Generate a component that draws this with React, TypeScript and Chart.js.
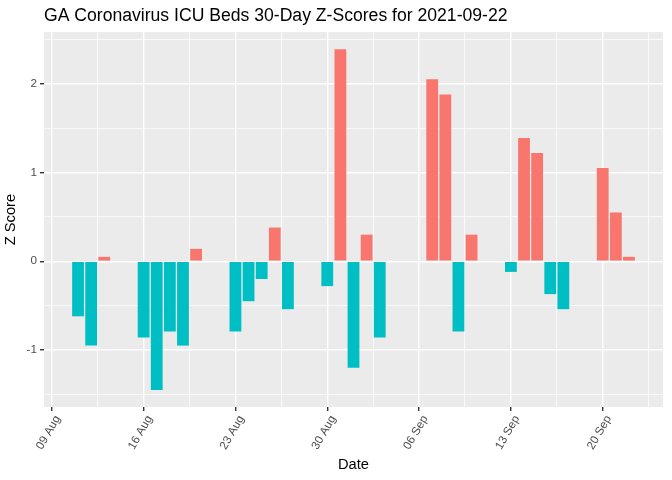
import React, { useEffect, useRef } from "react";
import { Chart, registerables } from "chart.js";

Chart.register(...registerables);

const titleText = "GA Coronavirus ICU Beds 30-Day Z-Scores for 2021-09-22";
const dates = [
  "2021-08-11", "2021-08-12", "2021-08-13",
  "2021-08-16", "2021-08-17", "2021-08-18", "2021-08-19", "2021-08-20",
  "2021-08-23", "2021-08-24", "2021-08-25", "2021-08-26", "2021-08-27",
  "2021-08-30", "2021-08-31", "2021-09-01", "2021-09-02", "2021-09-03",
  "2021-09-07", "2021-09-08", "2021-09-09", "2021-09-10",
  "2021-09-13", "2021-09-14", "2021-09-15", "2021-09-16", "2021-09-17",
  "2021-09-20", "2021-09-21", "2021-09-22",
];
const zScores = [
  -0.62, -0.95, 0.05,
  -0.86, -1.45, -0.79, -0.95, 0.14,
  -0.79, -0.45, -0.2, 0.38, -0.54,
  -0.28, 2.39, -1.2, 0.3, -0.86,
  2.05, 1.88, -0.79, 0.3,
  -0.12, 1.39, 1.22, -0.37, -0.54,
  1.05, 0.55, 0.05,
];
const xTickLabels = ["09 Aug", "16 Aug", "23 Aug", "30 Aug", "06 Sep", "13 Sep", "20 Sep"];
const yTickLabels = ["-1", "0", "1", "2"];
const yTickValues = [-1, 0, 1, 2];

const baseDay = Date.UTC(2021, 7, 9);
const dayOf = (s: string) => {
  const [y, m, d] = s.split("-").map(Number);
  return Math.round((Date.UTC(y, m - 1, d) - baseDay) / 86400000);
};

export default function App() {
  const ref = useRef<HTMLCanvasElement | null>(null);
  useEffect(() => {
    document.body.style.margin = "0";
    const points = dates.map((d, i) => ({ x: dayOf(d), y: zScores[i] }));
    const colors = zScores.map((v) => (v >= 0 ? "#F8766D" : "#00BFC4"));
    const xs = points.map((p) => p.x);
    const xmin0 = Math.min(...xs) - 0.45;
    const xmax0 = Math.max(...xs) + 0.45;
    const xpad = (xmax0 - xmin0) * 0.05;
    const ymin0 = Math.min(...zScores, 0);
    const ymax0 = Math.max(...zScores, 0);
    const ypad = (ymax0 - ymin0) * 0.05;

    const panelBg = {
      id: "panelBg",
      beforeDraw(chart: any) {
        const { ctx, chartArea: a } = chart;
        ctx.save();
        ctx.fillStyle = "#EBEBEB";
        ctx.fillRect(a.left, a.top, a.right - a.left, a.bottom - a.top);
        ctx.restore();
      },
    };

    const isMajorX = (v: any) => typeof v === "number" && Math.abs(v % 7) < 1e-6;
    const isMajorY = (v: any) => typeof v === "number" && Math.abs(v - Math.round(v)) < 1e-6;
    const tv = (c: any) => (c && c.tick ? c.tick.value : undefined);

    const chart = new Chart(ref.current!, {
      type: "bar",
      data: {
        datasets: [
          {
            data: points,
            backgroundColor: colors,
            borderWidth: 0,
            barPercentage: 0.9,
            categoryPercentage: 1,
          },
        ],
      },
      plugins: [panelBg],
      options: {
        animation: false,
        responsive: true,
        maintainAspectRatio: false,
        layout: { padding: { right: 9, left: 0, bottom: 0, top: 0 } },
        plugins: {
          legend: { display: false },
          tooltip: { enabled: false },
          title: {
            display: true,
            text: titleText,
            align: "start",
            fullSize: false,
            color: "#000000",
            font: { family: "Liberation Sans", size: 17.6, weight: "normal" },
            padding: { top: 6, bottom: 5 },
          },
        },
        scales: {
          x: {
            type: "linear",
            offset: false,
            min: xmin0 - xpad,
            max: xmax0 + xpad,
            afterBuildTicks: (s: any) => {
              const t = [];
              for (let v = Math.ceil(s.min / 3.5) * 3.5; v <= s.max; v += 3.5) t.push({ value: v });
              s.ticks = t;
            },
            afterFit: (s: any) => {
              s.height = 73;
            },
            grid: {
              offset: false,
              color: "#FFFFFF",
              lineWidth: (c: any) => (isMajorX(tv(c)) ? 1.4 : 0.7),
              tickColor: (c: any) => (isMajorX(tv(c)) ? "#333333" : "rgba(0,0,0,0)"),
              tickLength: 4,
              drawTicks: true,
            },
            border: { display: false },
            ticks: {
              autoSkip: false,
              minRotation: 60,
              maxRotation: 60,
              labelOffset: 6,
              padding: 2,
              color: "#4D4D4D",
              font: { family: "Liberation Sans", size: 11.7 },
              callback: (v: any) => {
                const n = Number(v);
                if (!isMajorX(n)) return "";
                const idx = Math.round(n / 7);
                return xTickLabels[idx] ?? "";
              },
            },
            title: {
              display: true,
              text: "Date",
              color: "#000000",
              font: { family: "Liberation Sans", size: 14.7 },
              padding: { top: 0, bottom: 6 },
            },
          },
          y: {
            type: "linear",
            min: ymin0 - ypad,
            max: ymax0 + ypad,
            afterBuildTicks: (s: any) => {
              const t = [];
              for (let v = Math.ceil(s.min / 0.5) * 0.5; v <= s.max; v += 0.5) t.push({ value: v });
              s.ticks = t;
            },
            afterFit: (s: any) => {
              s.width = 44;
            },
            grid: {
              color: "#FFFFFF",
              lineWidth: (c: any) => (isMajorY(tv(c)) ? 1.4 : 0.7),
              tickColor: (c: any) => (isMajorY(tv(c)) ? "#333333" : "rgba(0,0,0,0)"),
              tickLength: 4,
              drawTicks: true,
            },
            border: { display: false },
            ticks: {
              autoSkip: false,
              padding: 3,
              color: "#4D4D4D",
              font: { family: "Liberation Sans", size: 11.7 },
              callback: (v: any) => {
                const n = Number(v);
                const i = yTickValues.findIndex((t) => Math.abs(t - n) < 1e-6);
                return i >= 0 ? yTickLabels[i] : "";
              },
            },
            title: {
              display: true,
              text: "Z Score",
              color: "#000000",
              font: { family: "Liberation Sans", size: 14.7 },
              padding: { top: 2, bottom: 0 },
            },
          },
        },
      } as any,
    });
    return () => chart.destroy();
  }, []);
  return (
    <div style={{ width: 672, height: 480, position: "relative" }}>
      <canvas ref={ref} />
    </div>
  );
}
